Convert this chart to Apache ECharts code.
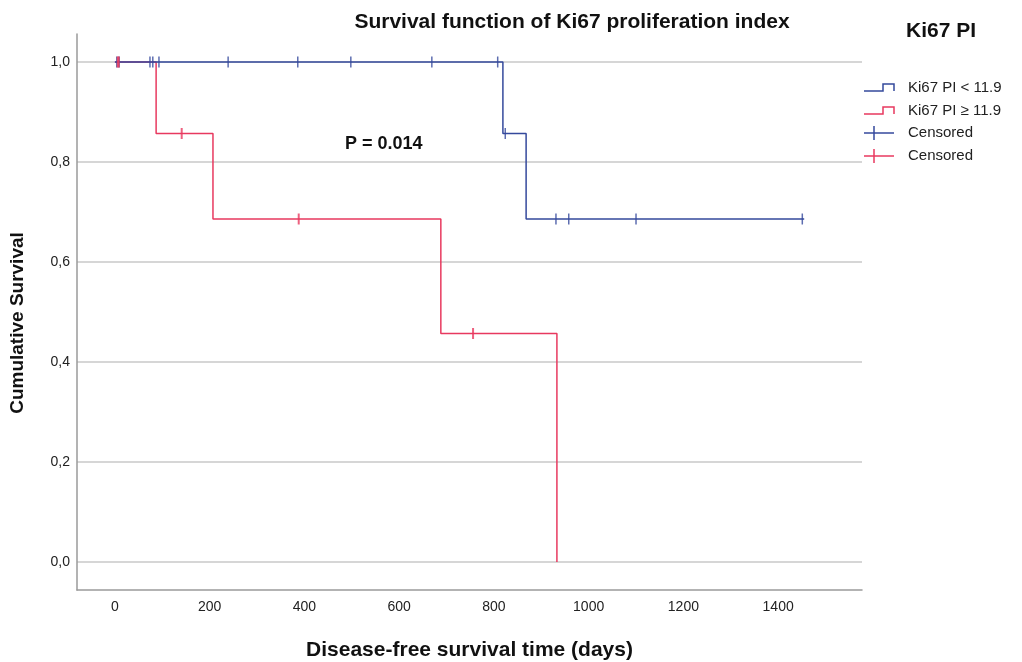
<!DOCTYPE html>
<html>
<head>
<meta charset="utf-8">
<title>Survival function of Ki67 proliferation index</title>
<script src="https://cdn.jsdelivr.net/npm/echarts@6/dist/echarts.min.js"></script>
<style>
	html, body { margin: 0; padding: 0; background: #fff; }
	#km_chart { width: 1022px; height: 662px; }
</style>
</head>
<body>
<div id="km_chart"></div>
<script>
	// Kaplan-Meier steps (days, cumulative survival)
	let lowTimes = [0, 819, 868, 1455]
	let lowSurv = [1, 0.857, 0.686, 0.686]
	let lowCensored = [4, 9, 74, 80, 93, 239, 386, 498, 669, 808, 824, 931, 958, 1100, 1451]

	let highTimes = [0, 87, 207, 688, 933]
	let highSurv = [1, 0.857, 0.686, 0.457, 0]
	let highCensored = [6, 8, 141, 388, 756]

	let xTicks = [0, 200, 400, 600, 800, 1000, 1200, 1400]
	let yTicks = [0, 0.2, 0.4, 0.6, 0.8, 1.0]

	let blue = '#34499c'
	let red = '#e8395f'
	let font = "'Liberation Sans', Arial, sans-serif"

	// survival value in force at time t (step lookup)
	function survAt(times, surv, t) {
		let v = surv[0]
		for (let i = 0; i < times.length; i++) {
			if (times[i] <= t) v = surv[i]
		}
		return v
	}
	function steps(times, surv) {
		return times.map(function (t, i) { return [t, surv[i]] })
	}
	function marks(cens, times, surv) {
		return cens.map(function (t) { return [t, survAt(times, surv, t)] })
	}

	let chart = echarts.init(document.getElementById('km_chart'))

	// legend drawn by hand, SPSS style
	let lx = 864, tx = 908
	let legendGraphics = [
		{ type: 'text', left: 906, top: 21, style: { text: 'Ki67 PI', font: 'bold 21px ' + font, fill: '#111' } },
		{ type: 'polyline', shape: { points: [[lx, 91], [883, 91], [883, 84], [894, 84], [894, 91]] }, style: { stroke: blue, lineWidth: 1.5, fill: null } },
		{ type: 'text', left: tx, top: 80, style: { text: 'Ki67 PI < 11.9', font: '15px ' + font, fill: '#222' } },
		{ type: 'polyline', shape: { points: [[lx, 114], [883, 114], [883, 107], [894, 107], [894, 114]] }, style: { stroke: red, lineWidth: 1.5, fill: null } },
		{ type: 'text', left: tx, top: 103, style: { text: 'Ki67 PI \u2265 11.9', font: '15px ' + font, fill: '#222' } },
		{ type: 'line', shape: { x1: lx, y1: 133, x2: 894, y2: 133 }, style: { stroke: blue, lineWidth: 1.5 } },
		{ type: 'line', shape: { x1: 874, y1: 126, x2: 874, y2: 140 }, style: { stroke: blue, lineWidth: 1.5 } },
		{ type: 'text', left: tx, top: 125, style: { text: 'Censored', font: '15px ' + font, fill: '#222' } },
		{ type: 'line', shape: { x1: lx, y1: 156, x2: 894, y2: 156 }, style: { stroke: red, lineWidth: 1.5 } },
		{ type: 'line', shape: { x1: 874, y1: 149, x2: 874, y2: 163 }, style: { stroke: red, lineWidth: 1.5 } },
		{ type: 'text', left: tx, top: 148, style: { text: 'Censored', font: '15px ' + font, fill: '#222' } },
		{ type: 'text', left: 345, top: 135, style: { text: 'P = 0.014', font: 'bold 18px ' + font, fill: '#111' } }
	]

	chart.setOption({
		animation: false,
		textStyle: { fontFamily: font },
		title: {
			text: 'Survival function of Ki67 proliferation index',
			left: 567,
			textAlign: 'center',
			top: 7,
			textStyle: { fontSize: 21, fontWeight: 'bold', color: '#111', fontFamily: font }
		},
		grid: { left: 77, right: 160, top: 34, bottom: 72, outerBoundsMode: 'none' },
		xAxis: {
			type: 'value',
			min: -80,
			max: 1577,
			name: 'Disease-free survival time (days)',
			nameLocation: 'middle',
			nameGap: 50,
			nameTextStyle: { fontSize: 21, fontWeight: 'bold', color: '#111' },
			axisLine: { show: true, onZero: false, lineStyle: { color: '#9a9a9a', width: 1.5 } },
			axisTick: { show: false, customValues: xTicks },
			axisLabel: {
				customValues: xTicks,
				color: '#222',
				fontSize: 14,
				margin: 10,
				formatter: function (v) { return String(v) }
			},
			splitLine: { show: false }
		},
		yAxis: {
			type: 'value',
			min: -0.056,
			max: 1.056,
			name: 'Cumulative Survival',
			nameLocation: 'middle',
			nameGap: 50,
			nameTextStyle: { fontSize: 19, fontWeight: 'bold', color: '#111', padding: [0, 22, 0, 0] },
			axisLine: { show: true, onZero: false, lineStyle: { color: '#9a9a9a', width: 1.5 } },
			axisTick: { show: false, customValues: yTicks },
			axisLabel: {
				customValues: yTicks,
				color: '#222',
				fontSize: 14,
				margin: 7,
				formatter: function (v) { return v.toFixed(1).replace('.', ',') }
			},
			splitLine: { show: true, lineStyle: { color: '#c8c8c8', width: 1.5 } }
		},
		graphic: legendGraphics,
		series: [
			{
				name: 'Ki67 PI \u2265 11.9',
				type: 'line',
				step: 'end',
				data: steps(highTimes, highSurv),
				showSymbol: false,
				lineStyle: { color: red, width: 1.5 },
				z: 2
			},
			{
				name: 'Ki67 PI < 11.9',
				type: 'line',
				step: 'end',
				data: steps(lowTimes, lowSurv),
				showSymbol: false,
				lineStyle: { color: blue, width: 1.5 },
				z: 3
			},
			{
				name: 'Censored',
				type: 'scatter',
				data: marks(lowCensored, lowTimes, lowSurv),
				symbol: 'rect',
				symbolSize: [1.5, 11],
				itemStyle: { color: blue },
				z: 4
			},
			{
				name: 'Censored ',
				type: 'scatter',
				data: marks(highCensored, highTimes, highSurv),
				symbol: 'rect',
				symbolSize: [2, 11],
				itemStyle: { color: red },
				z: 5
			}
		]
	})
</script>
</body>
</html>
